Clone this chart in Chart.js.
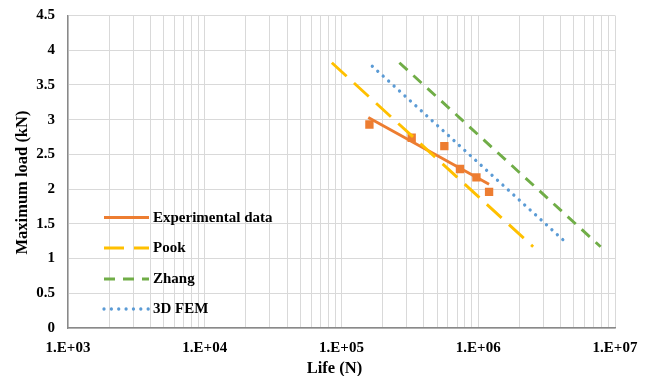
<!DOCTYPE html>
<html>
<head>
<meta charset="utf-8">
<script src="https://cdn.jsdelivr.net/npm/chart.js@4/dist/chart.umd.min.js"></script>
<style>
  html, body { margin: 0; padding: 0; background: #ffffff; }
  #wrap { width: 645px; height: 376px; position: relative; }
</style>
</head>
<body>
<div id="wrap"><canvas id="c" width="645" height="376"></canvas></div>
<script>
// ---- data ----
const expLife   = [1.6e5, 3.26e5, 5.65e5, 7.35e5, 9.7e5, 1.2e6];
const expLoad   = [2.93, 2.74, 2.62, 2.29, 2.17, 1.96];
const expFitLife = [1.57e5, 1.2e6];
const expFitLoad = [3.03, 2.07];
const pookLife  = [8.5e4, 2.52e6];
const pookLoad  = [3.82, 1.17];
const zhangLife = [2.65e5, 7.85e6];
const zhangLoad = [3.82, 1.17];
const femLife   = [1.68e5, 4.33e6];
const femLoad   = [3.77, 1.24];

const seriesNames = ['Experimental data', 'Pook', 'Zhang', '3D FEM'];
const xTickValues = [1e3, 1e4, 1e5, 1e6, 1e7];
const xTickLabels = ['1.E+03', '1.E+04', '1.E+05', '1.E+06', '1.E+07'];
const yTickValues = [0, 0.5, 1, 1.5, 2, 2.5, 3, 3.5, 4, 4.5];
const xTitle = 'Life (N)';
const yTitle = 'Maximum load (kN)';

const pts = (xs, ys) => xs.map((x, i) => ({x: x, y: ys[i]}));

const FONT = '"Liberation Serif", "Times New Roman", serif';
const GRID = '#d9d9d9';
const AXIS = '#898989';

// legend drawn inside the plot area (bottom-left) and axis titles, like the reference
const extras = {
  id: 'extras',
  afterDraw(chart) {
    const ctx = chart.ctx;
    const rows = [217.5, 248, 279, 309];
    const x0 = 104, x1 = 149, tx = 153;
    ctx.save();
    chart.data.datasets.forEach(ds => {
      if (ds.legendRow === undefined) return;
      const y = rows[ds.legendRow];
      ctx.beginPath();
      ctx.strokeStyle = ds.borderColor;
      ctx.lineWidth = ds.borderWidth;
      ctx.lineCap = ds.borderCapStyle || 'butt';
      ctx.setLineDash(ds.borderDash || []);
      ctx.moveTo(x0, y);
      ctx.lineTo(x1, y);
      ctx.stroke();
      ctx.setLineDash([]);
      ctx.fillStyle = '#000000';
      ctx.font = 'bold 15px ' + FONT;
      ctx.textBaseline = 'middle';
      ctx.textAlign = 'left';
      ctx.fillText(ds.label, tx, y + 0.5);
    });
    // axis titles
    ctx.fillStyle = '#000000';
    ctx.font = 'bold 16.5px ' + FONT;
    ctx.textAlign = 'center';
    ctx.textBaseline = 'alphabetic';
    ctx.fillText(xTitle, 334.5, 373);
    ctx.save();
    ctx.translate(27, 182.5);
    ctx.rotate(-Math.PI / 2);
    ctx.fillText(yTitle, 0, 0);
    ctx.restore();
    ctx.restore();
  }
};

new Chart(document.getElementById('c'), {
  type: 'scatter',
  data: {
    datasets: [
      {
        label: 'points',
        data: pts(expLife, expLoad),
        showLine: false,
        pointStyle: 'rect',
        pointRadius: 5.9,
        pointBorderWidth: 0,
        backgroundColor: '#ED7D31',
        borderColor: '#ED7D31',
        order: 5
      },
      {
        label: seriesNames[0],
        legendRow: 0,
        data: pts(expFitLife, expFitLoad),
        showLine: true,
        pointRadius: 0,
        borderColor: '#ED7D31',
        borderWidth: 2.9,
        order: 4
      },
      {
        label: seriesNames[1],
        legendRow: 1,
        data: pts(pookLife, pookLoad),
        showLine: true,
        pointRadius: 0,
        borderColor: '#FFC000',
        borderWidth: 2.9,
        borderDash: [20, 10],
        order: 3
      },
      {
        label: seriesNames[2],
        legendRow: 2,
        data: pts(zhangLife, zhangLoad),
        showLine: true,
        pointRadius: 0,
        borderColor: '#70AD47',
        borderWidth: 2.9,
        borderDash: [11, 8],
        order: 2
      },
      {
        label: seriesNames[3],
        legendRow: 3,
        data: pts(femLife, femLoad),
        showLine: true,
        pointRadius: 0,
        borderColor: '#5B9BD5',
        borderWidth: 3.3,
        borderCapStyle: 'round',
        borderDash: [0.01, 7.35],
        order: 1
      }
    ]
  },
  options: {
    responsive: false,
    animation: false,
    devicePixelRatio: 1,
    layout: { autoPadding: false, padding: { top: 15.5, right: 30, left: 8, bottom: 3 } },
    plugins: {
      legend: { display: false },
      tooltip: { enabled: false }
    },
    scales: {
      x: {
        type: 'logarithmic',
        min: 1e3,
        max: 1e7,
        afterBuildTicks(scale) {
          const t = [];
          for (let e = 3; e < 7; e++) {
            for (let m = 1; m < 10; m++) t.push({value: m * Math.pow(10, e)});
          }
          t.push({value: 1e7});
          scale.ticks = t;
        },
        afterFit(scale) {
          scale.height = 45;
          scale.paddingLeft = 0;
          scale.paddingRight = 0;
        },
        grid: { color: GRID, lineWidth: 1, drawTicks: false },
        border: { color: AXIS, width: 1.4 },
        ticks: {
          autoSkip: false,
          maxRotation: 0,
          padding: 11,
          color: '#000000',
          font: { family: FONT, size: 15, weight: 'bold' },
          callback(v) {
            const i = xTickValues.indexOf(v);
            return i >= 0 ? xTickLabels[i] : '';
          }
        },
        title: { display: false }
      },
      y: {
        min: 0,
        max: 4.5,
        afterBuildTicks(scale) {
          scale.ticks = yTickValues.map(v => ({value: v}));
        },
        afterFit(scale) {
          scale.width = 60;
          scale.paddingTop = 0;
          scale.paddingBottom = 0;
        },
        grid: { color: GRID, lineWidth: 1, drawTicks: false },
        border: { color: AXIS, width: 1.4 },
        ticks: {
          padding: 13,
          color: '#000000',
          font: { family: FONT, size: 15, weight: 'bold' },
          callback(v) { return String(v); }
        },
        title: { display: false }
      }
    }
  },
  plugins: [extras]
});
</script>
</body>
</html>
